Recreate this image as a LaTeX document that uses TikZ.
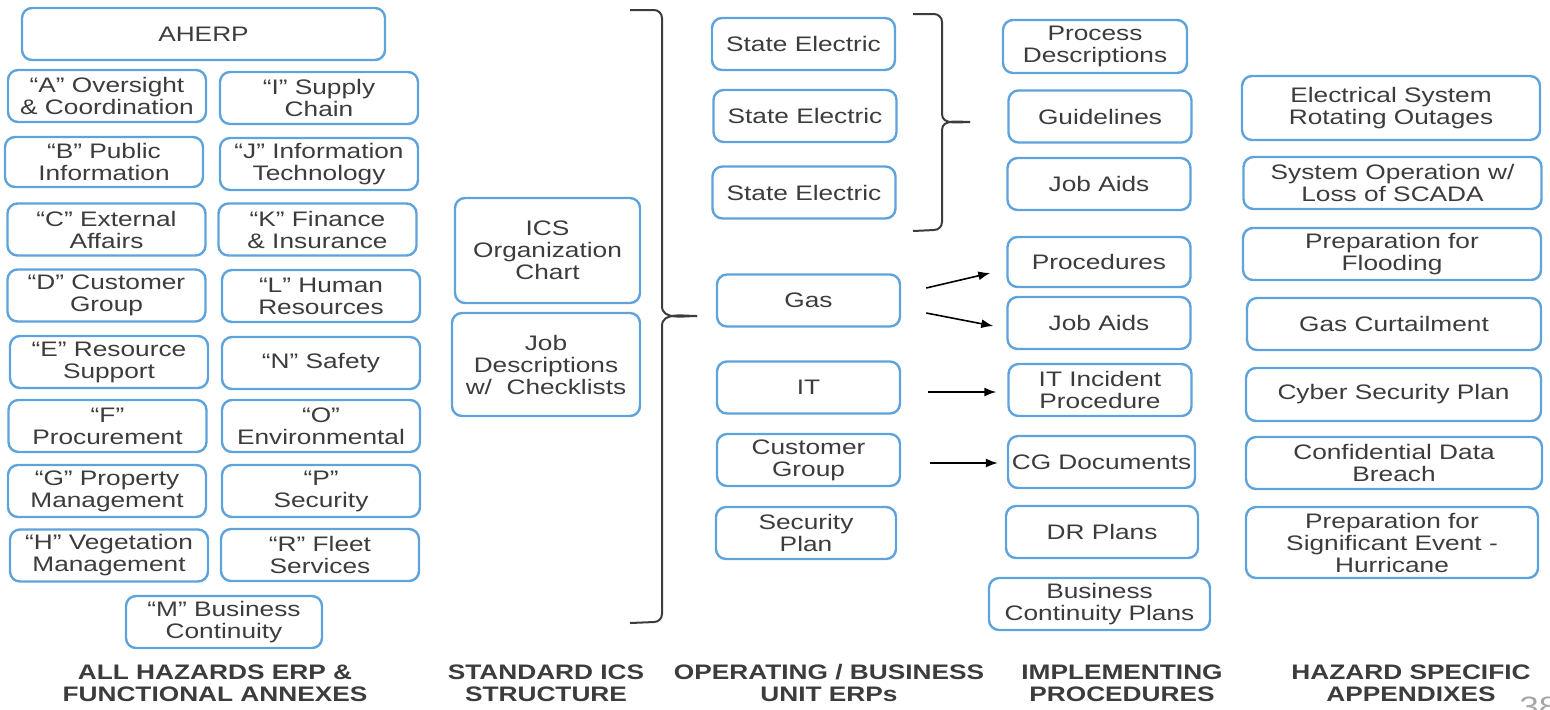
\documentclass[tikz,border=0pt]{standalone}
\usepackage{fontspec}
\setmainfont{Liberation Sans}[FakeStretch=1.25]
\usepackage{tikz}
\usetikzlibrary{arrows.meta}
\definecolor{boxblue}{HTML}{5FA3DC}
\definecolor{textgray}{HTML}{3C3C3C}

\begin{document}
\begin{tikzpicture}[x=0.5pt,y=-0.5pt]
\tikzset{box/.style={draw=boxblue,line width=1.2pt,rounded corners=5pt,align=center,inner sep=0pt,
    text=textgray,font=\fontsize{10.5}{11}\selectfont},
  annex/.style={box,minimum width=99pt,minimum height=26pt},
  unit/.style={box,minimum width=91.5pt,minimum height=26pt},
  impl/.style={box,minimum width=91.5pt,minimum height=26pt},
  hazard/.style={box,minimum width=149pt,minimum height=26pt},
  caption/.style={align=center,text=textgray,font=\fontsize{10.5}{11}\selectfont\bfseries},
  brace/.style={draw=textgray,line width=1pt},
  arr/.style={-{Latex[length=6pt,width=4.5pt]},line width=0.8pt}}
\useasboundingbox (0,0) rectangle (1550,709);

\node[box,minimum width=181.5pt,minimum height=26pt] (aherp) at (203.5,34) {AHERP};
\node[annex] (annexA) at (107,96) {“A” Oversight\\\& Coordination};
\node[annex] (annexI) at (319,98) {“I” Supply\\Chain};
\node[annex,minimum height=25pt] (annexB) at (104,162) {“B” Public\\Information};
\node[annex] (annexJ) at (319,164) {“J” Information\\Technology};
\node[annex] (annexC) at (106.5,229.5) {“C” External\\Affairs};
\node[annex] (annexK) at (317.5,229.5) {“K” Finance\\\& Insurance};
\node[annex] (annexD) at (106.5,295.5) {“D” Customer\\Group};
\node[annex] (annexL) at (321,296) {“L” Human\\Resources};
\node[annex] (annexE) at (109,362) {“E” Resource\\Support};
\node[annex] (annexN) at (321,363) {“N” Safety};
\node[annex] (annexF) at (107.5,426) {“F”\\Procurement};
\node[annex] (annexO) at (321,426) {“O”\\Environmental};
\node[annex] (annexG) at (107,491) {“G” Property\\Management};
\node[annex] (annexP) at (321,491) {“P”\\Security};
\node[annex] (annexH) at (109,555.5) {“H” Vegetation\\Management};
\node[annex] (annexR) at (320,555) {“R” Fleet\\Services};
\node[annex,minimum width=98pt] (annexM) at (224,622) {“M” Business\\Continuity};

\node[box,minimum width=92.5pt,minimum height=52.5pt] (icschart) at (547.5,250.5) {ICS\\Organization\\Chart};
\node[box,minimum width=94pt,minimum height=51.5pt] (jobdesc) at (546,364.5) {Job\\Descriptions\\w/\ \ Checklists};

\node[unit] (se1) at (803.5,44) {State Electric};
\node[unit] (se2) at (805,116) {State Electric};
\node[unit] (se3) at (804,192.5) {State Electric};
\node[unit] (gas) at (808.5,300.5) {Gas};
\node[unit] (it) at (808.5,387.5) {IT};
\node[unit] (custgrp) at (808.5,460) {Customer\\Group};
\node[unit,minimum width=90pt] (secplan) at (806,533) {Security\\Plan};

\node[impl,minimum width=92pt,minimum height=26.5pt] (procdesc) at (1095,46.5) {Process\\Descriptions};
\node[impl] (guide) at (1100,116.5) {Guidelines};
\node[impl] (jobaids) at (1099,184) {Job Aids};
\node[impl,minimum height=25pt] (procs) at (1099,262) {Procedures};
\node[impl] (jobaidsb) at (1099,323) {Job Aids};
\node[impl] (itinc) at (1100,390) {IT Incident\\Procedure};
\node[impl,minimum width=93.5pt] (cgdocs) at (1101.5,462) {CG Documents};
\node[impl,minimum width=96pt] (drplans) at (1102,532) {DR Plans};
\node[impl,minimum width=110.5pt] (bcp) at (1099.5,604) {Business\\Continuity Plans};

\node[hazard,minimum height=32pt] (elec) at (1391,108) {Electrical System\\Rotating Outages};
\node[hazard] (scada) at (1392.5,183) {System Operation w/\\Loss of SCADA};
\node[hazard] (flood) at (1392,254) {Preparation for\\Flooding};
\node[hazard,minimum width=147pt] (gascurt) at (1394,324) {Gas Curtailment};
\node[hazard,minimum width=147.5pt,minimum height=26.5pt] (cyber) at (1393.5,394.5) {Cyber Security Plan};
\node[hazard,minimum width=148pt] (breach) at (1394,463) {Confidential Data\\Breach};
\node[hazard,minimum width=146pt,minimum height=35.5pt] (hurricane) at (1392,542.5) {Preparation for\\Significant Event -\\Hurricane};

\coordinate (icstip) at (697,316);
\coordinate (setip) at (970,122);
\draw[brace] (630,10) -- (654,10) to[out=0,in=90] (662,18) -- (662,306) to[out=-90,in=180] (icstip);
\draw[brace] (icstip) to[out=180,in=90] (662,326) -- (662,614) to[out=-90,in=0] (654,622) -- (630,623);
\draw[brace] (913,14) -- (934,14) to[out=0,in=90] (942,22) -- (942,114) to[out=-90,in=180] (setip);
\draw[brace] (setip) to[out=180,in=90] (942,130) -- (942,222) to[out=-90,in=0] (934,230) -- (913,231);

\draw[arr] ([shift={(25,-12.5)}]gas.east) -- ([shift={(-16,11)}]procs.west);
\draw[arr] ([shift={(25,12.5)}]gas.east) -- ([shift={(-13,3)}]jobaidsb.west);
\draw[arr] ([shift={(27,4.5)}]it.east) -- ([shift={(-11,2)}]itinc.west);
\draw[arr] ([shift={(29,3)}]custgrp.east) -- ([shift={(-9,1)}]cgdocs.west);

\node[caption] (capannex) at (215,683) {ALL HAZARDS ERP \&\\FUNCTIONAL ANNEXES};
\node[caption] (capics) at (546,683) {STANDARD ICS\\STRUCTURE};
\node[caption] (capunit) at (829,683) {OPERATING / BUSINESS\\UNIT ERPs};
\node[caption] (capimpl) at (1122,683) {IMPLEMENTING\\PROCEDURES};
\node[caption] (caphazard) at (1411,683) {HAZARD SPECIFIC\\APPENDIXES};
\node[anchor=north west,inner sep=0pt,text=gray!70,font=\fontsize{14}{14}\selectfont] (pagenum) at (1519,697) {38};
\end{tikzpicture}
\end{document}
